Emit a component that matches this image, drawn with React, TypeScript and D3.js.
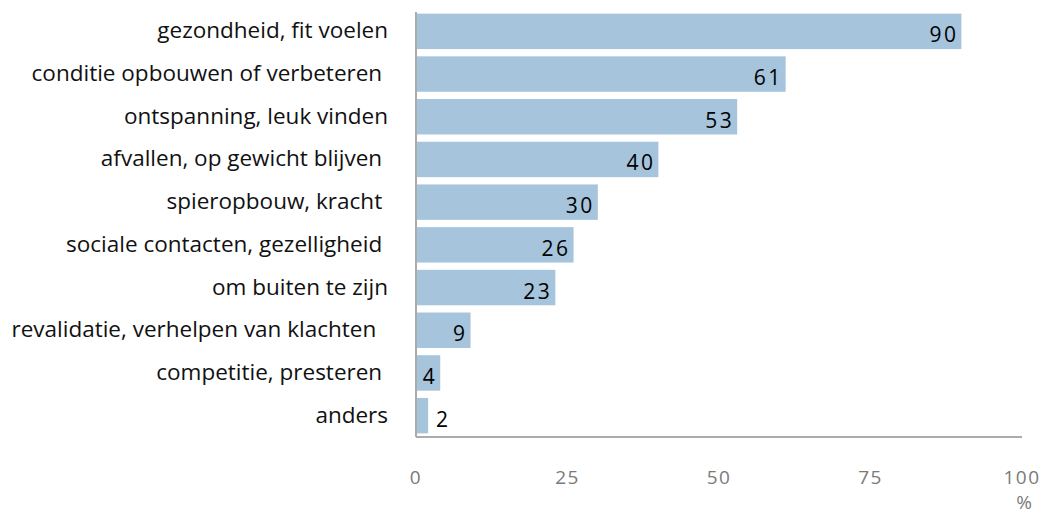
import React from "react";
import * as d3 from "d3";

const categories = [
  "gezondheid, fit voelen",
  "conditie opbouwen of verbeteren ",
  "ontspanning, leuk vinden",
  "afvallen, op gewicht blijven ",
  "spieropbouw, kracht ",
  "sociale contacten, gezelligheid ",
  "om buiten te zijn",
  "revalidatie, verhelpen van klachten  ",
  "competitie, presteren ",
  "anders",
];
const values = [90, 61, 53, 40, 30, 26, 23, 9, 4, 2];
const ticks = [0, 25, 50, 75, 100];

export default function App() {
  const W = 1046, H = 515;
  const x = d3.scaleLinear().domain([0, 100]).range([416, 1022]);
  const y = d3.scaleBand<string>().domain(categories).range([10, 437]).paddingInner(0.17).paddingOuter(0.085);
  const font = "'Open Sans', sans-serif";
  return (
    <svg width={W} height={H} style={{ position: "absolute", left: 0, top: 0, background: "#fff" }}>
      {categories.map((c, i) => {
        const y0 = y(c)!;
        const bw = y.bandwidth();
        const xe = x(values[i]);
        const inside = xe - x(0) > 18;
        return (
          <g key={c}>
            <rect x={x(0) + 1} y={y0} width={xe - x(0) - 1} height={bw} fill="#a6c4dc" />
            <text
              x={inside ? xe - 3 : xe + 8}
              y={y0 + bw / 2 + 11}
              textAnchor={inside ? "end" : "start"}
              fontFamily={font}
              fontSize={21}
              letterSpacing={2.5}
              fill="#000"
            >
              {values[i]}
            </text>
            <text
              x={388}
              y={y0 + bw / 2 + 7}
              textAnchor="end"
              fontFamily={font}
              fontSize={22.5}
              fill="#111"
              style={{ whiteSpace: "pre" }}
            >
              {c}
            </text>
          </g>
        );
      })}
      <line x1={x(0)} x2={x(0)} y1={12} y2={437} stroke="#ababab" strokeWidth={2} />
      <line x1={x(0)} x2={x(100)} y1={437} y2={437} stroke="#ababab" strokeWidth={2} />
      {ticks.map((t) => (
        <text key={t} x={x(t)} y={484} textAnchor="middle" fontFamily={font} fontSize={19} fill="#7a7a7a" letterSpacing={1.5}>
          {t}
        </text>
      ))}
      <text x={x(100) + 2} y={509} textAnchor="middle" fontFamily={font} fontSize={19} fill="#7a7a7a">%</text>
    </svg>
  );
}
